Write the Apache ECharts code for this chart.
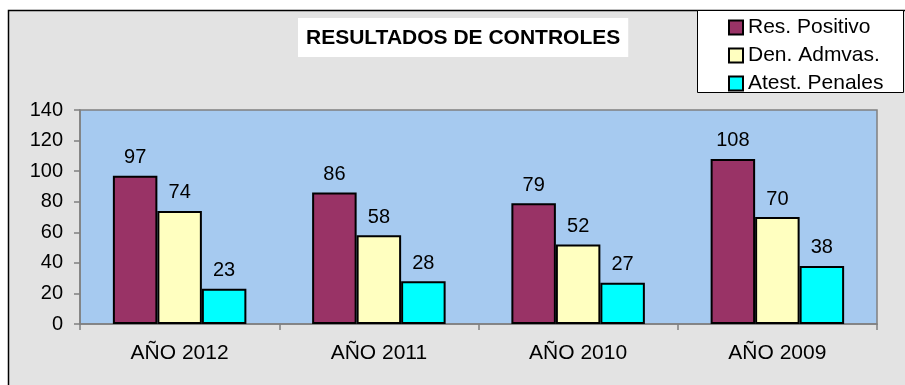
<!DOCTYPE html>
<html>
<head>
<meta charset="utf-8">
<script src="https://cdn.jsdelivr.net/npm/echarts@6/dist/echarts.min.js"></script>
<style>
  html, body { margin: 0; padding: 0; background: #ffffff; }
  #chart { width: 905px; height: 385px; }
</style>
</head>
<body>
<div id="chart"></div>
<script>
// Years shown along the category axis
const categories = ['AÑO 2012', 'AÑO 2011', 'AÑO 2010', 'AÑO 2009'];

// Control results per year
const resPositivo = [97, 86, 79, 108];
const denAdmvas = [74, 58, 52, 70];
const atestPenales = [23, 28, 27, 38];

const seriesNames = ['Res. Positivo', 'Den. Admvas.', 'Atest. Penales'];
const seriesColors = ['#993366', '#ffffc0', '#00ffff'];

const yTicks = { min: 0, max: 140, interval: 20 };

const FONT = 'Liberation Sans, Arial, sans-serif';

const chart = echarts.init(document.getElementById('chart'));

function barSeries(name, data, color) {
  return {
    name: name,
    type: 'bar',
    data: data,
    barGap: 0,
    barCategoryGap: '33%',
    itemStyle: { color: color, borderColor: '#000000', borderWidth: 2 },
    label: {
      show: true,
      position: 'top',
      distance: 8,
      color: '#000000',
      fontFamily: FONT,
      fontSize: 20
    },
    emphasis: { disabled: true }
  };
}

chart.setOption({
  animation: false,
  backgroundColor: '#ffffff',
  textStyle: { fontFamily: FONT },
  title: {
    text: 'RESULTADOS DE CONTROLES',
    left: 298,
    top: 18,
    padding: [10, 8, 8, 8],
    backgroundColor: '#ffffff',
    textStyle: { fontFamily: FONT, fontSize: 21, fontWeight: 'bold', color: '#000000' }
  },
  graphic: [
    {
      type: 'rect',
      z: -5,
      shape: { x: 8.5, y: 10.5, width: 920, height: 400 },
      style: { fill: '#e3e3e3', stroke: '#000000', lineWidth: 1.5 }
    },
    {
      type: 'rect',
      z: 1,
      shape: { x: 697.5, y: 10.5, width: 206, height: 82 },
      style: { fill: '#ffffff', stroke: '#000000', lineWidth: 1 }
    }
  ],
  legend: {
    orient: 'vertical',
    left: 728,
    top: 17,
    padding: 0,
    itemWidth: 14,
    itemHeight: 14,
    itemGap: 7,
    itemTextGap: 6,
    icon: 'rect',
    selectedMode: false,
    data: seriesNames,
    textStyle: { fontFamily: FONT, fontSize: 21, color: '#000000' }
  },
  grid: {
    left: 80,
    right: 28,
    top: 110,
    bottom: 61,
    show: true,
    backgroundColor: '#a6caf0',
    borderColor: '#808080',
    borderWidth: 1.5
  },
  xAxis: {
    type: 'category',
    data: categories,
    axisLine: { lineStyle: { color: '#808080', width: 1.5 } },
    axisTick: { show: true, length: 6, lineStyle: { color: '#808080', width: 1.5 } },
    axisLabel: { margin: 19, color: '#000000', fontFamily: FONT, fontSize: 21 },
    splitLine: { show: false }
  },
  yAxis: {
    type: 'value',
    min: yTicks.min,
    max: yTicks.max,
    interval: yTicks.interval,
    axisLine: { show: true, lineStyle: { color: '#808080', width: 1.5 } },
    axisTick: { show: true, length: 6, lineStyle: { color: '#808080', width: 1.5 } },
    axisLabel: { margin: 17, color: '#000000', fontFamily: FONT, fontSize: 20 },
    splitLine: { show: false }
  },
  series: [
    barSeries(seriesNames[0], resPositivo, seriesColors[0]),
    barSeries(seriesNames[1], denAdmvas, seriesColors[1]),
    barSeries(seriesNames[2], atestPenales, seriesColors[2])
  ]
});
</script>
</body>
</html>
